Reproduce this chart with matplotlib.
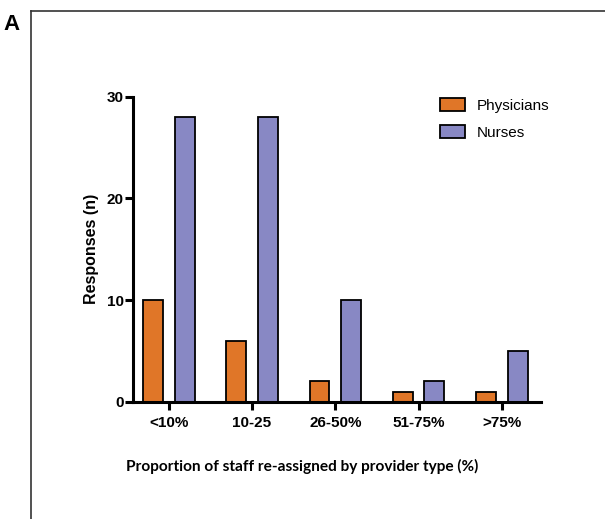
import matplotlib.pyplot as plt
from matplotlib.lines import Line2D
import numpy as np

plt.rcParams["font.family"] = "Liberation Sans"

categories = ["<10%", "10-25", "26-50%", "51-75%", ">75%"]
physicians = [10, 6, 2, 1, 1]
nurses = [28, 28, 10, 2, 5]

orange = "#E07628"
purple = "#8888C4"

fig = plt.figure(figsize=(6.05, 5.19), dpi=100)
ax = fig.add_axes([0.2198, 0.226, 0.6744, 0.5877])

x = np.arange(len(categories))
w = 0.24
off = 0.19
ax.bar(x - off, physicians, w, color=orange, edgecolor="black", linewidth=1.3, label="Physicians")
ax.bar(x + off, nurses, w, color=purple, edgecolor="black", linewidth=1.3, label="Nurses")

ax.set_xlim(-0.43, 4.47)
ax.set_ylim(0, 30)
ax.set_yticks([0, 10, 20, 30])
ax.set_xticks(x)
ax.set_xticklabels(categories, fontsize=11, fontweight="bold")
for lab in ax.get_yticklabels():
    lab.set_fontsize(11)
    lab.set_fontweight("bold")

for side in ["top", "right"]:
    ax.spines[side].set_visible(False)
for side in ["left", "bottom"]:
    ax.spines[side].set_linewidth(2.2)
ax.tick_params(axis="y", width=2.2, length=6, direction="out", pad=0.5)
ax.tick_params(axis="x", width=2.2, length=6, direction="out", pad=4)

ax.set_ylabel("Responses (n)", fontsize=11.5, fontweight="bold", labelpad=6)

ax.legend(loc="upper left", bbox_to_anchor=(0.72, 1.04), frameon=False,
          fontsize=11, handlelength=1.6, handleheight=0.9, labelspacing=0.8,
          handletextpad=0.8)

fig.text(0.499, 0.102, "Proportion of staff re-assigned by provider type (%)",
         ha="center", va="center", fontsize=11.1, fontweight="bold", family="Lato")
fig.text(0.005, 0.952, "A", fontsize=16, fontweight="bold", ha="left", va="center")

# panel frame lines
fig.add_artist(Line2D([31 / 605, 31 / 605], [0, 1 - 11 / 519], transform=fig.transFigure,
                      color="#333333", linewidth=1.2))
fig.add_artist(Line2D([31 / 605, 1], [1 - 11 / 519, 1 - 11 / 519], transform=fig.transFigure,
                      color="#333333", linewidth=1.2))

fig.savefig("out.png", dpi=100)
